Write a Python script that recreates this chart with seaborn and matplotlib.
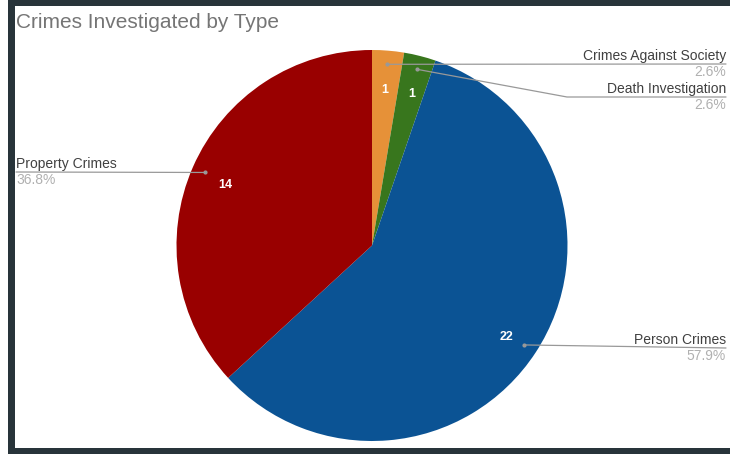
import numpy as np
import seaborn as sns
import matplotlib.pyplot as plt

# chart data
categories = ["Crimes Against Society", "Death Investigation", "Person Crimes", "Property Crimes"]
counts = [1, 1, 22, 14]
colors = ["#e69138", "#38761d", "#0b5394", "#990000"]

sns.set_theme(style="white")
plt.rcParams["font.family"] = ["Liberation Sans", "DejaVu Sans"]

W, H = 730, 454
fig = plt.figure(figsize=(W / 100, H / 100), dpi=100)
ax = fig.add_axes([0, 0, 1, 1])

# pie in pixel coordinates (y up)
cx, cy, R = 372, H - 245.5, 195.5
wedges, _ = ax.pie(counts, colors=colors, startangle=90, counterclock=False,
                   center=(cx, cy), radius=R, wedgeprops=dict(linewidth=0))
ax.set_xlim(0, W)
ax.set_ylim(0, H)
ax.set_aspect("auto")
ax.axis("off")

total = sum(counts)
# label layout: side, line y (from top), elbow x
layout = {
    "Crimes Against Society": ("right", 64, None),
    "Death Investigation": ("right", 97, 567),
    "Person Crimes": ("right", 348, None),
    "Property Crimes": ("left", 172, None),
}
for w, name, n in zip(wedges, categories, counts):
    mid = np.deg2rad((w.theta1 + w.theta2) / 2)
    # value inside slice
    vx, vy = cx + 0.82 * R * np.cos(mid), cy + 0.82 * R * np.sin(mid) - 4
    ax.text(vx, vy, str(n), color="white", fontsize=9, fontweight="bold",
            ha="center", va="center")
    # leader line
    ax_, ay_ = cx + 0.93 * R * np.cos(mid), cy + 0.93 * R * np.sin(mid)
    side, ly, ex = layout[name]
    ly = H - ly
    end_x = 726 if side == "right" else 16
    xs, ys = [ax_], [ay_]
    if ex is not None:
        xs.append(ex)
        ys.append(ly)
    xs.append(end_x)
    ys.append(ly)
    ax.plot(xs, ys, color="#999999", lw=0.9)
    ax.plot([ax_], [ay_], "o", ms=2, color="#999999")
    ha = "right" if side == "right" else "left"
    ax.text(end_x, ly + 1, name, color="#404040", fontsize=10, ha=ha, va="bottom")
    ax.text(end_x, ly - 1, f"{n / total * 100:.1f}%", color="#b0b0b0",
            fontsize=10, ha=ha, va="top")

ax.text(16, H - 23, "Crimes Investigated by Type", color="#757575",
        fontsize=15, ha="left", va="center")

# dark frame
frame = "#28343a"
ax.add_patch(plt.Rectangle((8, 0), 7, H, color=frame, lw=0))
ax.add_patch(plt.Rectangle((8, H - 6), W - 8, 6, color=frame, lw=0))
ax.add_patch(plt.Rectangle((8, 0), W - 8, 6, color=frame, lw=0))

fig.savefig("out.png", dpi=100, facecolor="white")
